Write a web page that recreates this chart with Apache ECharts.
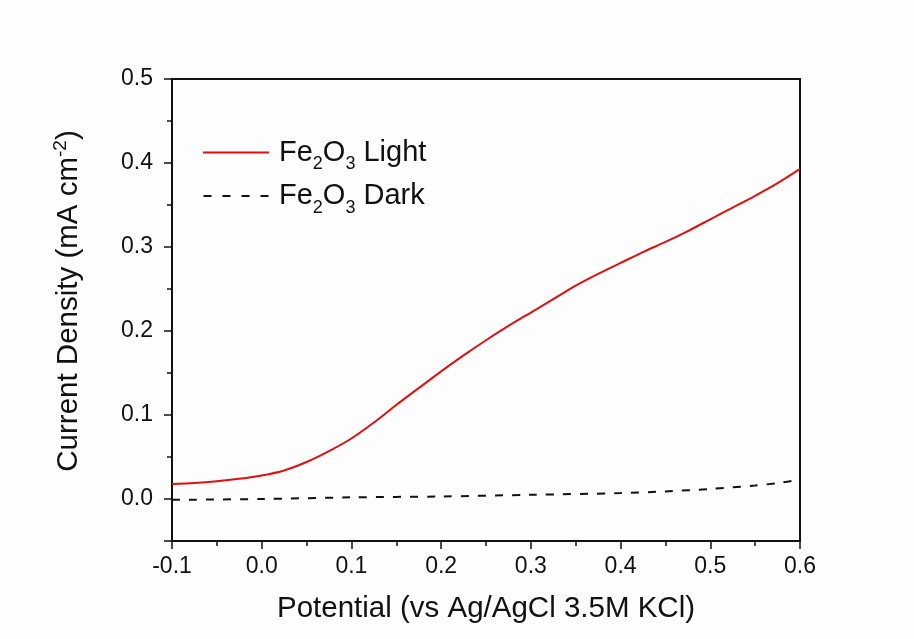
<!DOCTYPE html>
<html>
<head>
<meta charset="utf-8">
<script src="https://cdn.jsdelivr.net/npm/echarts@6/dist/echarts.min.js"></script>
<style>html,body{margin:0;padding:0;background:#fdfdfd;}#c{width:914px;height:639px;}</style>
</head>
<body>
<div id="c"></div>
<script>
const lightX = [-0.1,-0.075,-0.05,-0.025,0.0,0.025,0.05,0.075,0.1,0.125,0.15,0.175,0.2,0.225,0.25,0.275,0.3,0.325,0.35,0.375,0.4,0.425,0.45,0.475,0.5,0.525,0.55,0.575,0.6];
const lightY = [0.018,0.019,0.021,0.024,0.028,0.034,0.044,0.057,0.072,0.091,0.112,0.132,0.152,0.171,0.189,0.206,0.222,0.238,0.254,0.268,0.281,0.294,0.306,0.319,0.333,0.347,0.361,0.376,0.393];
const darkX = [-0.1,0.0,0.1,0.2,0.3,0.4,0.45,0.5,0.55,0.575,0.6];
const darkY = [-0.001,0.000,0.002,0.003,0.005,0.007,0.009,0.012,0.016,0.019,0.023];
const xTicks = [-0.1,0.0,0.1,0.2,0.3,0.4,0.5,0.6];
const yTicks = [0.0,0.1,0.2,0.3,0.4,0.5];

const FONT = "'Liberation Sans', Arial, sans-serif";
const chart = echarts.init(document.getElementById('c'));
const axisLine = {onZero:false, lineStyle:{color:'#111', width:2}};
chart.setOption({
  backgroundColor:'#fdfdfd',
  animation:false,
  grid:{left:172, right:114, top:79, bottom:98, show:true, borderColor:'#111', borderWidth:2, backgroundColor:'transparent'},
  legend:{
    orient:'vertical', left:198, top:133, itemWidth:66, itemHeight:2, itemGap:8,
    textStyle:{fontFamily:FONT, fontSize:29, color:'#111', padding:[0,0,0,5],
      rich:{
        n:{fontFamily:FONT, fontSize:29, color:'#111', lineHeight:42, verticalAlign:'middle'},
        s:{fontFamily:FONT, fontSize:18, color:'#111', lineHeight:15, verticalAlign:'bottom'}
      }},
    formatter: function(name){ const parts = name.split(' '); return '{n|Fe}{s|2}{n|O}{s|3}{n| ' + parts[1] + '}'; },
    data:[
      {name:'Fe2O3 Light', icon:'rect'},
      {name:'Fe2O3 Dark', icon:'path://M0,0h8v2h-8zM19,0h8v2h-8zM38,0h8v2h-8zM57,0h8v2h-8z'}
    ]
  },
  xAxis:{
    type:'value', min:-0.1, max:0.6, interval:0.1,
    axisLine:axisLine,
    axisTick:{show:true, length:8, lineStyle:{color:'#111', width:1.5}},
    minorTick:{show:true, splitNumber:2, length:5, lineStyle:{color:'#111', width:1.5}},
    splitLine:{show:false},
    axisLabel:{margin:14, fontFamily:FONT, fontSize:23, color:'#111',
      formatter:v => { const t = xTicks.find(k => Math.abs(k - v) < 1e-6); return t === undefined ? '' : t.toFixed(1); }},
    name:'Potential (vs Ag/AgCl 3.5M KCl)', nameLocation:'middle', nameGap:53,
    nameTextStyle:{fontFamily:FONT, fontSize:29.5, color:'#111'}
  },
  yAxis:[{
    type:'value', min:-0.05, max:0.5, position:'left',
    axisLine:axisLine,
    axisTick:{show:true, length:8, lineStyle:{color:'#111', width:1.5}},
    splitLine:{show:false},
    axisLabel:{margin:19, fontFamily:FONT, fontSize:23, color:'#111',
      formatter:v => { const t = yTicks.find(k => Math.abs(k - v) < 1e-6); return t === undefined ? '' : t.toFixed(1); }},
    name:'{t|Current Density (mA cm}{p|-2}{t|)}', nameLocation:'middle', nameGap:85,
    nameTextStyle:{fontFamily:FONT, fontSize:29.5, color:'#111', padding:[0,0,0,18],
      rich:{
        t:{fontFamily:FONT, fontSize:29.5, color:'#111', lineHeight:36, verticalAlign:'middle'},
        p:{fontFamily:FONT, fontSize:19, color:'#111', lineHeight:19, verticalAlign:'top'}
      }}
  },{
    type:'value', min:-0.05, max:0.5, interval:0.05, position:'left', offset:0,
    axisLine:{show:false, onZero:false},
    axisTick:{show:true, length:5, lineStyle:{color:'#111', width:1.5}},
    axisLabel:{show:false}, splitLine:{show:false}
  }],
  series:[
    {name:'Fe2O3 Light', type:'line', yAxisIndex:0, showSymbol:false, symbol:'none', smooth:0.3,
     lineStyle:{color:'#e01010', width:2}, itemStyle:{color:'#e01010'},
     data: lightX.map((x,i)=>[x, lightY[i]])},
    {name:'Fe2O3 Dark', type:'line', yAxisIndex:0, showSymbol:false, symbol:'none', smooth:0.3,
     lineStyle:{color:'#111', width:2, type:[8,9]}, itemStyle:{color:'#111'},
     data: darkX.map((x,i)=>[x, darkY[i]])}
  ]
});
</script>
</body>
</html>
